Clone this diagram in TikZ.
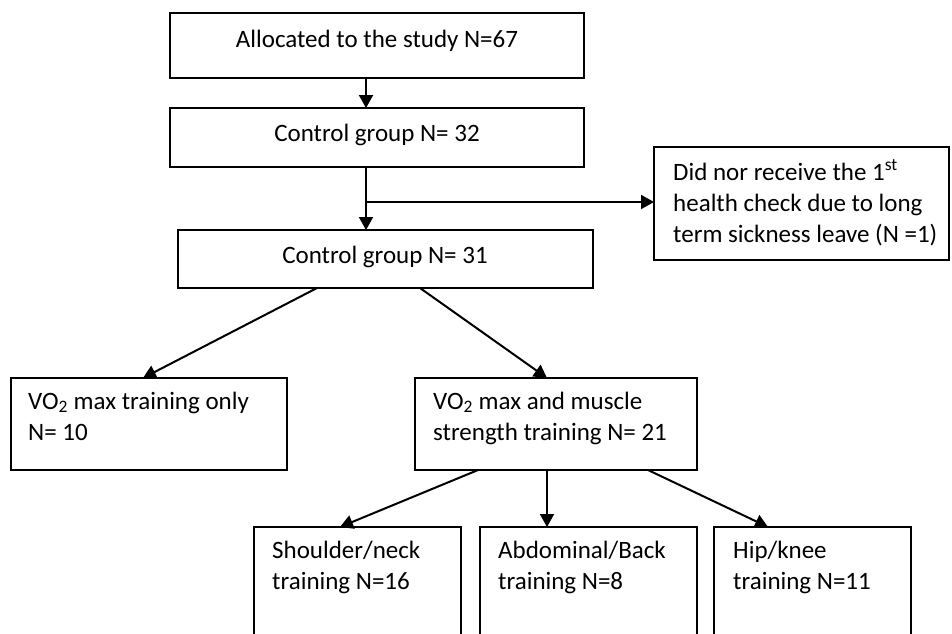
\documentclass[tikz,border=0pt]{standalone}
\usepackage{fontspec}
\setmainfont{Carlito}
\usetikzlibrary{calc,arrows.meta}
\begin{document}
\begin{tikzpicture}[x=1pt,y=-1pt,
  box/.style={draw,line width=2pt,minimum width=#1,inner sep=0pt,outer sep=0pt,anchor=north west},
  txt/.style={inner sep=0pt,font=\fontsize{25}{31}\selectfont},
  arr/.style={line width=2pt,-{Triangle[length=13pt,width=14pt]}},
  ln/.style={line width=2pt}]
\useasboundingbox (0,0) rectangle (952,633);
\fill[white] (0,0) rectangle (952,633);
\clip (0,0) rectangle (952,633);
% boxes
\node[box=414pt,minimum height=65pt] (B1) at (170,13) {};
\node[box=414pt,minimum height=59pt] (B2) at (170,108) {};
\node[box=415pt,minimum height=58pt] (B3) at (178,230) {};
\node[box=295pt,minimum height=113pt] (B4) at (654,147) {};
\node[box=276pt,minimum height=92pt] (B5) at (11,378) {};
\node[box=282pt,minimum height=92pt] (B6) at (415,378) {};
\node[box=207pt,minimum height=140pt] (B7) at (254,527) {};
\node[box=217pt,minimum height=140pt] (B8) at (480,527) {};
\node[box=197pt,minimum height=140pt] (B9) at (714,527) {};
% texts (multi-line nodes anchored at the baseline of their last line)
\node[txt,anchor=base] (T1) at (377,47) {Allocated to the study N=67};
\node[txt,anchor=base] (T2) at (377,141) {Control group N= 32};
\node[txt,anchor=base] (T3) at (385,263) {Control group N= 31};
\node[txt,anchor=base west,align=left] (T4) at (673,242) {Did nor receive the 1\textsuperscript{st}\\health check due to long\\term sickness leave (N =1)};
\node[txt,anchor=base west,align=left] (T5) at (28,440) {VO\textsubscript{2} max training only\\N= 10};
\node[txt,anchor=base west,align=left] (T6) at (433,440) {VO\textsubscript{2} max and muscle\\strength training N= 21};
\node[txt,anchor=base west,align=left] (T7) at (272,589) {Shoulder/neck\\training N=16};
\node[txt,anchor=base west,align=left] (T8) at (498,589) {Abdominal/Back\\training N=8};
\node[txt,anchor=base west,align=left] (T9) at (733,589) {Hip/knee\\training N=11};
% connectors
\coordinate (cx) at (366,0);
\coordinate (br) at (366,202);
\draw[arr] (B1.south -| cx) -- (B2.north -| cx);
\draw[arr] (B2.south -| cx) -- (B3.north -| cx);
\draw[arr] (br) -- (B4.west |- br);
\draw[arr] ($(B3.south west)+(139,0)$) -- ($(B5.north west)+(132,0)$);
\draw[arr] ($(B3.south west)+(242,0)$) -- ($(B6.north west)+(132,0)$);
\draw[arr] ($(B6.south west)+(63,0)$) -- ($(B7.north west)+(86,0)$);
\draw[arr] ($(B6.south west)+(132,0)$) -- ($(B8.north west)+(67,0)$);
\draw[arr] ($(B6.south west)+(233,0)$) -- ($(B9.north west)+(54,0)$);
\end{tikzpicture}
\end{document}
